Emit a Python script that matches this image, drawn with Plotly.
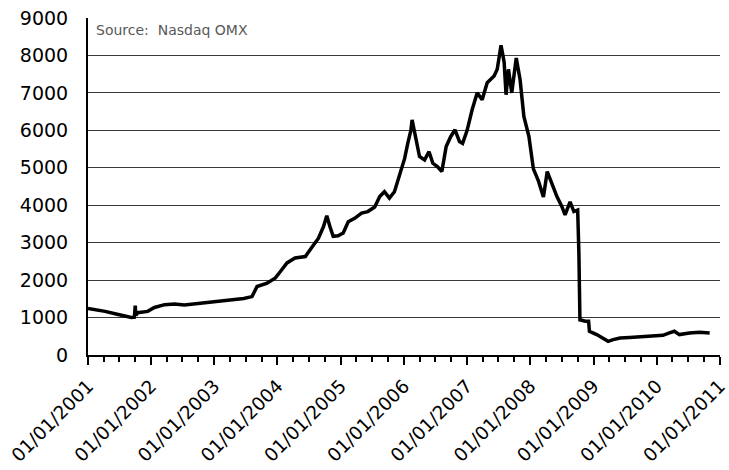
import plotly.graph_objects as go

dates = [
    "2001-01-01", "2001-04-10", "2001-06-25", "2001-08-15", "2001-09-08", "2001-09-26",
    "2001-10-01", "2001-10-05", "2001-10-15", "2001-12-12", "2002-01-20", "2002-03-20",
    "2002-05-15", "2002-07-12", "2002-09-06", "2002-11-03", "2003-01-18", "2003-04-05",
    "2003-06-20", "2003-08-07", "2003-09-05", "2003-11-02", "2003-12-20", "2004-01-18",
    "2004-02-25", "2004-04-12", "2004-06-10", "2004-07-15", "2004-08-25", "2004-09-23",
    "2004-10-12", "2004-10-30", "2004-11-18", "2004-12-16", "2005-01-15", "2005-02-13",
    "2005-03-22", "2005-05-01", "2005-06-06", "2005-07-16", "2005-08-14", "2005-09-10",
    "2005-10-09", "2005-11-07", "2005-12-06", "2006-01-05", "2006-01-23", "2006-02-10",
    "2006-02-17", "2006-03-10", "2006-04-01", "2006-04-30", "2006-05-26", "2006-06-17",
    "2006-07-13", "2006-08-08", "2006-09-02", "2006-09-28", "2006-10-23", "2006-11-18",
    "2006-12-06", "2007-01-01", "2007-01-30", "2007-02-28", "2007-03-29", "2007-04-27",
    "2007-06-06", "2007-06-24", "2007-07-16", "2007-08-03", "2007-08-14", "2007-08-28",
    "2007-09-16", "2007-10-12", "2007-11-03", "2007-11-25", "2007-12-24", "2008-01-19",
    "2008-02-17", "2008-03-17", "2008-04-08", "2008-05-04", "2008-06-03", "2008-07-02",
    "2008-07-20", "2008-08-18", "2008-09-09", "2008-10-01", "2008-10-06", "2008-10-08",
    "2008-10-14", "2008-11-14", "2008-12-03", "2008-12-08", "2009-01-19", "2009-02-28",
    "2009-03-26", "2009-04-24", "2009-06-03", "2009-07-28", "2009-10-12", "2009-12-09",
    "2010-02-06", "2010-03-15", "2010-04-13", "2010-05-12", "2010-07-09", "2010-09-06",
    "2010-11-03",
]
index_values = [
    1240, 1165, 1080, 1030, 1000, 1010,
    1320, 1060, 1130, 1165, 1270, 1345,
    1360, 1335, 1360, 1405, 1430, 1475,
    1510, 1560, 1830, 1920, 2060, 2230,
    2460, 2590, 2630, 2860, 3120, 3430,
    3720, 3430, 3170, 3185, 3260, 3560,
    3650, 3790, 3830, 3950, 4230, 4360,
    4190, 4360, 4800, 5250, 5650, 6000,
    6280, 5830, 5300, 5210, 5430, 5120,
    5030, 4900, 5570, 5830, 6015, 5700,
    5650, 6000, 6550, 7000, 6820, 7270,
    7450, 7630, 8270, 7820, 6950, 7630,
    7000, 7930, 7360, 6370, 5840, 4970,
    4650, 4220, 4900, 4590, 4230, 3960,
    3740, 4090, 3830, 3870, 3070, 2720,
    940, 900, 900, 630, 545, 430,
    365, 410, 455, 470, 500, 520,
    525, 590, 635, 545, 590, 605,
    590,
]

tick_dates = ["2001-01-01", "2002-01-01", "2003-01-01", "2004-01-01", "2005-01-01", "2006-01-01",
              "2007-01-01", "2008-01-01", "2009-01-01", "2010-01-01", "2011-01-01"]
tick_labels = ["01/01/2001", "01/01/2002", "01/01/2003", "01/01/2004", "01/01/2005", "01/01/2006",
               "01/01/2007", "01/01/2008", "01/01/2009", "01/01/2010", "01/01/2011"]

source_text = "Source:  Nasdaq OMX"
font_family = "DejaVu Sans"

fig = go.Figure()
fig.add_trace(go.Scatter(
    x=dates, y=index_values, mode="lines",
    line=dict(color="black", width=3.5),
    showlegend=False,
))

fig.update_layout(
    width=729, height=470,
    margin=dict(l=88, r=9, t=18, b=115),
    paper_bgcolor="white", plot_bgcolor="white",
    font=dict(family=font_family, color="black"),
    xaxis=dict(
        type="date",
        range=["2001-01-01", "2011-01-01 12:00"],
        tickmode="array", tickvals=tick_dates, ticktext=tick_labels,
        tickangle=-45, ticklabeloverflow="allow",
        tickfont=dict(size=18.5, family=font_family, color="black"),
        ticks="outside", ticklen=8, tickwidth=1.5, tickcolor="black",
        ticklabelstandoff=3,
        minor=dict(tick0="2001-01-01", dtick="M3", ticks="outside", ticklen=5, tickwidth=1.5,
                   tickcolor="black", showgrid=False),
        showline=True, linecolor="black", linewidth=2,
        showgrid=False, zeroline=False, automargin=False,
    ),
    yaxis=dict(
        range=[0, 9000], dtick=1000,
        tickfont=dict(size=19, family=font_family, color="black"),
        ticks="", ticklabelstandoff=14,
        showline=True, linecolor="black", linewidth=2,
        showgrid=True, gridcolor="#3a3a3a", gridwidth=1,
        zeroline=False, automargin=False,
    ),
    annotations=[dict(
        text=source_text, xref="paper", yref="paper", x=0.01, y=0.995,
        xanchor="left", yanchor="top", showarrow=False,
        font=dict(size=14, family=font_family, color="#595959"),
    )],
)

fig.write_html("out.html", config={"displayModeBar": False},
               post_script="document.body.style.margin='0';document.body.style.overflow='hidden';")
